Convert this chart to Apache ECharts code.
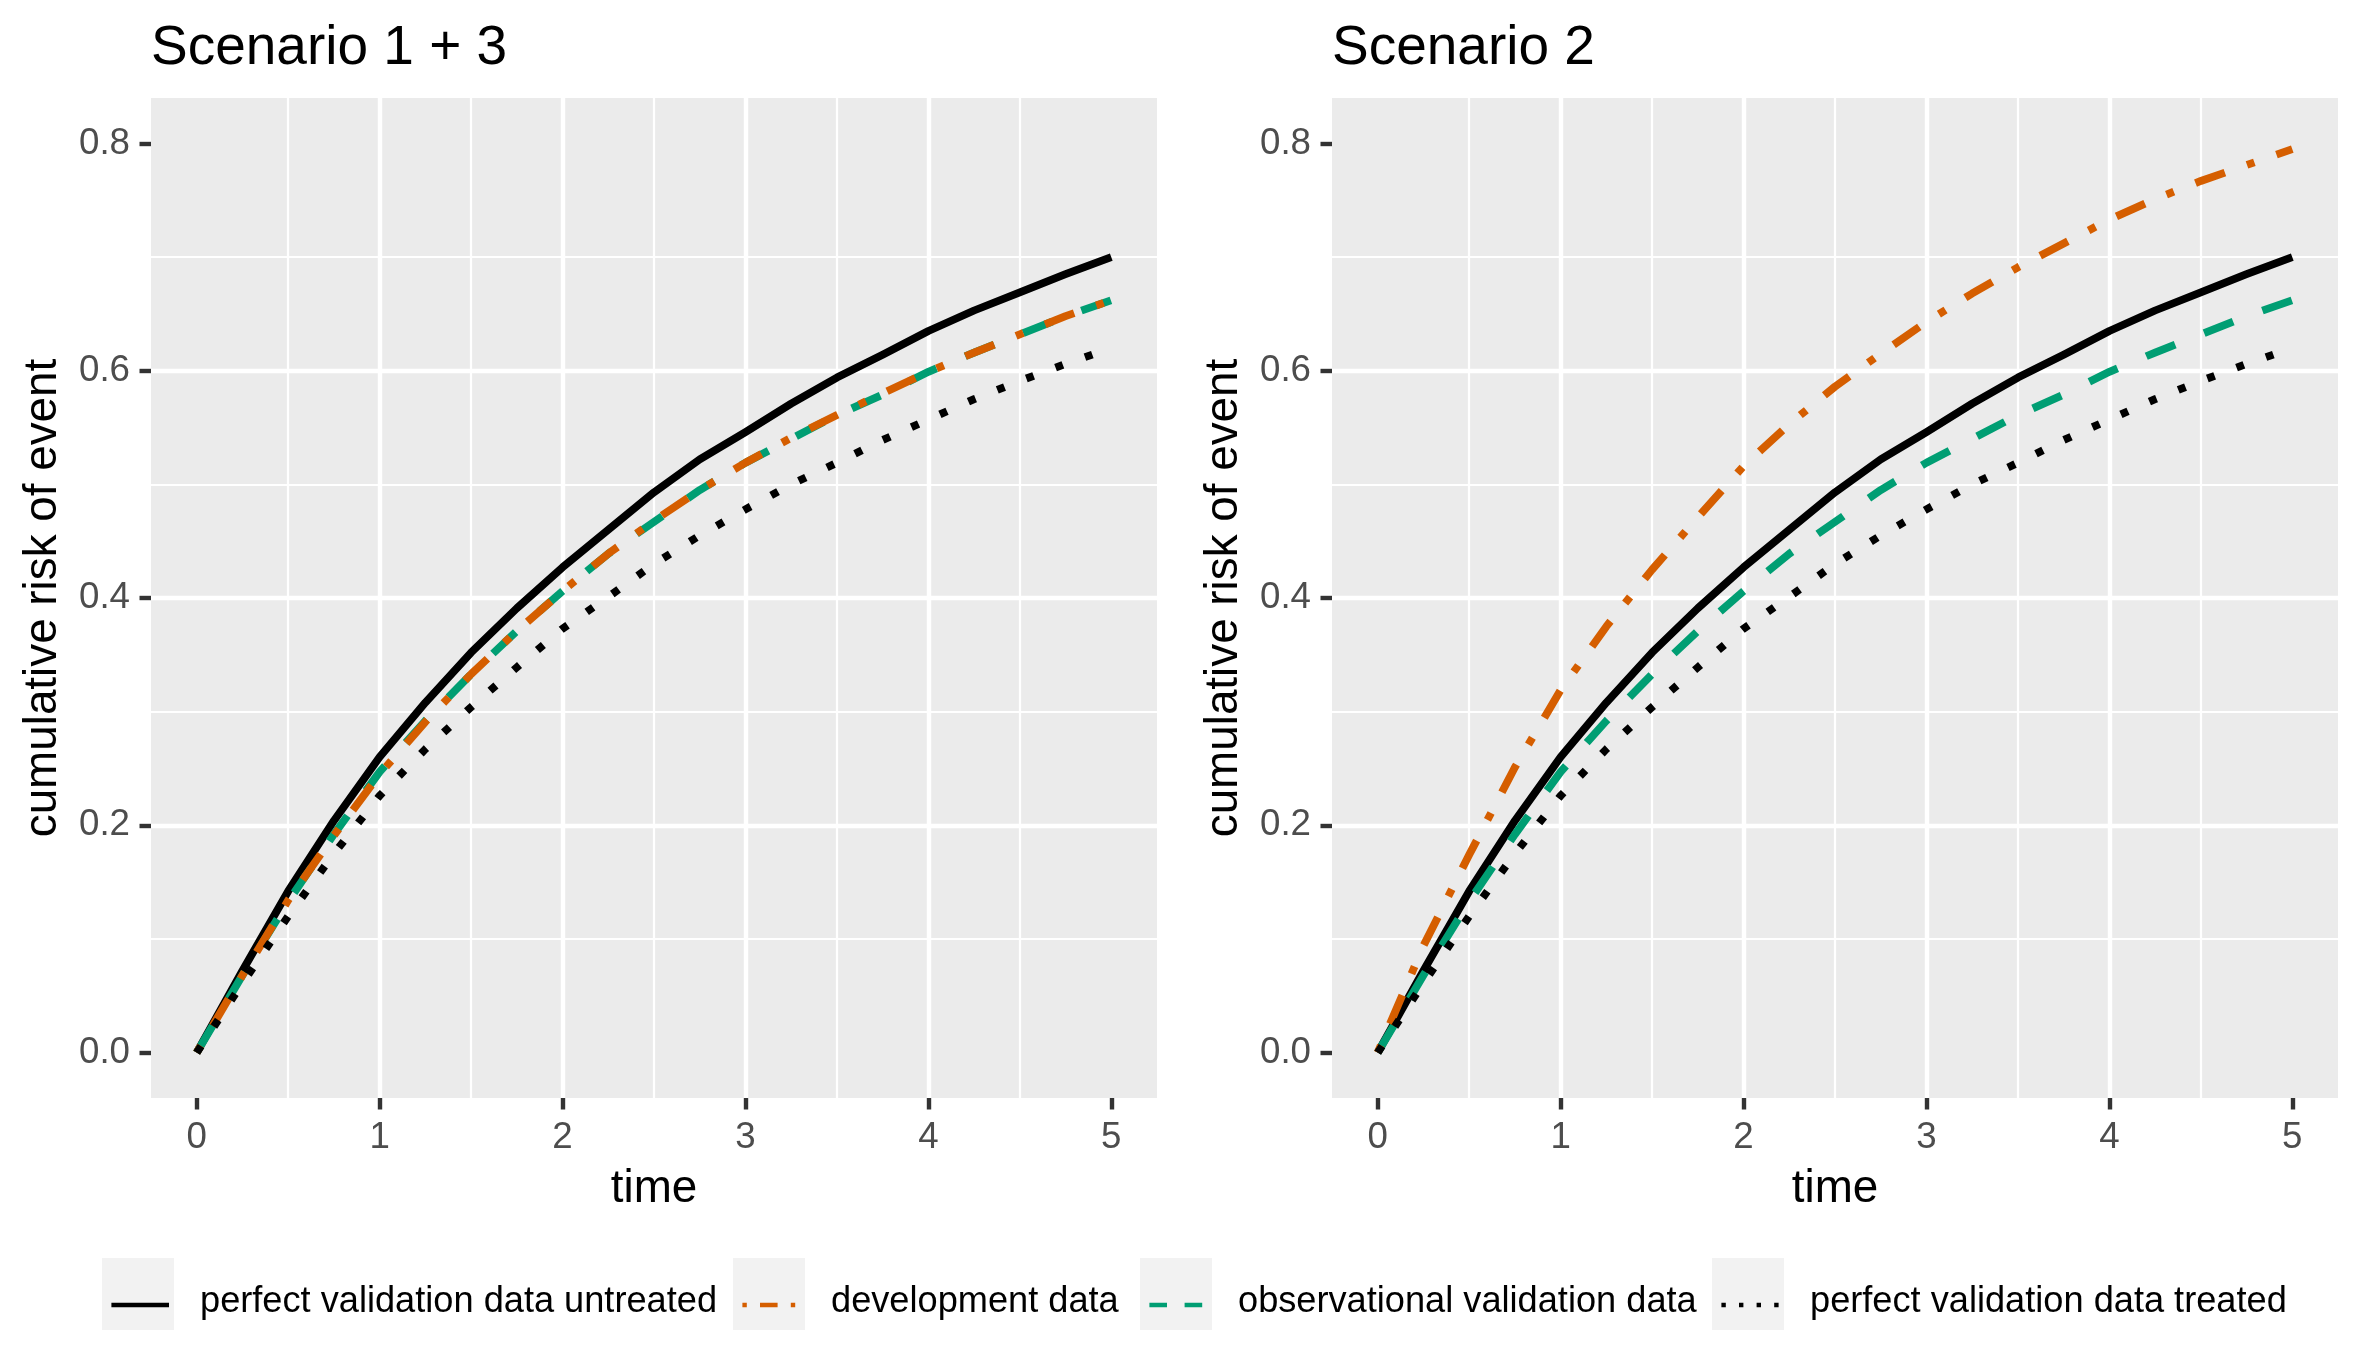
<!DOCTYPE html>
<html>
<head>
<meta charset="utf-8">
<script src="https://cdn.jsdelivr.net/npm/echarts@6/dist/echarts.min.js"></script>
<style>
  html, body { margin: 0; padding: 0; background: #fff; }
  #chart { width: 2362px; height: 1352px; }
</style>
</head>
<body>
<div id="chart"></div>
<script>
// data
var timePoints = [0, 0.25, 0.5, 0.75, 1, 1.25, 1.5, 1.75, 2, 2.25, 2.5, 2.75, 3, 3.25, 3.5, 3.75, 4, 4.25, 4.5, 4.75, 5];
var untreated = [0, 0.072, 0.142, 0.204, 0.260, 0.308, 0.352, 0.391, 0.427, 0.460, 0.493, 0.522, 0.546, 0.571, 0.594, 0.614, 0.635, 0.653, 0.669, 0.685, 0.700];
var observational = [0, 0.068, 0.133, 0.192, 0.247, 0.292, 0.333, 0.371, 0.406, 0.439, 0.467, 0.495, 0.519, 0.540, 0.561, 0.579, 0.599, 0.616, 0.632, 0.648, 0.662];
var developmentS13 = [0, 0.068, 0.134, 0.191, 0.245, 0.291, 0.333, 0.371, 0.406, 0.439, 0.468, 0.495, 0.519, 0.541, 0.561, 0.580, 0.599, 0.616, 0.632, 0.648, 0.662];
var developmentS2 = [0, 0.094, 0.174, 0.251, 0.319, 0.375, 0.425, 0.471, 0.516, 0.553, 0.586, 0.615, 0.643, 0.668, 0.691, 0.712, 0.733, 0.751, 0.767, 0.781, 0.795];
var treated = [0, 0.061, 0.120, 0.175, 0.226, 0.267, 0.304, 0.339, 0.373, 0.401, 0.430, 0.455, 0.478, 0.500, 0.519, 0.539, 0.557, 0.575, 0.591, 0.606, 0.620];

var panelTitles = ['Scenario 1 + 3', 'Scenario 2'];
var seriesNames = ['perfect validation data untreated', 'development data', 'observational validation data', 'perfect validation data treated'];
var xTicks = [0, 1, 2, 3, 4, 5];
var yTicks = [0, 0.2, 0.4, 0.6, 0.8];

// styles
var FONT = '"Liberation Sans", Arial, sans-serif';
var colors = ['#000000', '#D55E00', '#009E73', '#000000'];
var LW = 7.8;
var plotDash = ['solid', [LW, 3 * LW, 4 * LW, 3 * LW], [4 * LW, 4 * LW], [LW, 3 * LW]];
var KW = 4.4;
var keyDash = ['solid', [KW, 3 * KW, 4 * KW, 3 * KW], [4 * KW, 4 * KW], [KW, 3 * KW]];
var legendLeft = [102, 733, 1140, 1712];
var panelLeft = [151, 1332];

function pairs(ys) {
	var out = [];
	for (var i = 0; i < timePoints.length; i++) {
		out.push([timePoints[i], ys[i]]);
	}
	return out;
}

var panelData = [
	[untreated, developmentS13, observational, treated],
	[untreated, developmentS2, observational, treated]
];

var grids = [], xAxes = [], yAxes = [], titles = [], series = [];
for (var p = 0; p < 2; p++) {
	grids.push({
		left: panelLeft[p], top: 98, width: 1006, height: 1000,
		show: true, backgroundColor: '#EBEBEB', borderWidth: 0
	});
	titles.push({
		text: panelTitles[p], left: panelLeft[p], top: 21, padding: 0,
		textStyle: { fontSize: 55, fontWeight: 'normal', color: '#000', fontFamily: FONT }
	});
	xAxes.push({
		type: 'value', gridIndex: p, min: -0.25, max: 5.25,
		splitNumber: 5, minInterval: 1, maxInterval: 1,
		name: 'time', nameLocation: 'middle', nameGap: 68,
		nameTextStyle: { fontSize: 45.8, color: '#000', fontFamily: FONT },
		axisLine: { show: false, onZero: false },
		axisTick: { show: true, length: 11.5, customValues: xTicks, lineStyle: { color: '#333333', width: 4.4 } },
		axisLabel: { margin: 21, fontSize: 36.7, color: '#4D4D4D', fontFamily: FONT, customValues: xTicks },
		splitLine: { show: true, showMinLine: false, showMaxLine: false, lineStyle: { color: '#FFFFFF', width: 4.4 } },
		minorTick: { show: false, splitNumber: 2 },
		minorSplitLine: { show: true, lineStyle: { color: '#FFFFFF', width: 2.2 } }
	});
	yAxes.push({
		type: 'value', gridIndex: p, min: -0.04, max: 0.84,
		splitNumber: 4, minInterval: 0.2, maxInterval: 0.2,
		name: 'cumulative risk of event', nameLocation: 'middle', nameGap: 85,
		nameTextStyle: { fontSize: 45.8, color: '#000', fontFamily: FONT },
		axisLine: { show: false, onZero: false },
		axisTick: { show: true, length: 11.5, customValues: yTicks, lineStyle: { color: '#333333', width: 4.4 } },
		axisLabel: {
			margin: 21, fontSize: 36.7, color: '#4D4D4D', fontFamily: FONT, customValues: yTicks,
			formatter: function (v) { return v.toFixed(1); }
		},
		splitLine: { show: true, showMinLine: false, showMaxLine: false, lineStyle: { color: '#FFFFFF', width: 4.4 } },
		minorTick: { show: false, splitNumber: 2 },
		minorSplitLine: { show: true, lineStyle: { color: '#FFFFFF', width: 2.2 } }
	});
	// drawing order: black solid, green, orange on top, dotted
	var order = [0, 2, 1, 3];
	for (var k = 0; k < order.length; k++) {
		var s = order[k];
		series.push({
			name: seriesNames[s], type: 'line', xAxisIndex: p, yAxisIndex: p,
			data: pairs(panelData[p][s]),
			symbol: 'none', smooth: false,
			lineStyle: { color: colors[s], width: LW, type: plotDash[s], cap: 'butt', join: 'round' },
			itemStyle: { color: colors[s] },
			emphasis: { disabled: true },
			silent: true, z: 3
		});
	}
}

var legends = seriesNames.map(function (name, k) {
	return {
		left: legendLeft[k] + 7.2, top: 1284, padding: 0,
		itemWidth: 57.6, itemHeight: 20, selectedMode: false, z: 5,
		data: [{
			name: name,
			itemStyle: { opacity: 0 },
			lineStyle: { color: colors[k], width: KW, type: keyDash[k], cap: 'butt', opacity: 1 }
		}],
		formatter: '{t|{name}}',
		textStyle: {
			fontSize: 36.2, color: '#000', fontFamily: FONT,
			rich: { t: { fontSize: 36.2, color: '#000', fontFamily: FONT, padding: [0, 0, 6, 26] } }
		}
	};
});

var keyBoxes = legendLeft.map(function (x) {
	return { type: 'rect', z: 1, shape: { x: x, y: 1258, width: 72, height: 72 }, style: { fill: '#F2F2F2' } };
});

var myChart = echarts.init(document.getElementById('chart'), null, { renderer: 'canvas' });
myChart.setOption({
	animation: false,
	backgroundColor: '#FFFFFF',
	title: titles,
	grid: grids,
	xAxis: xAxes,
	yAxis: yAxes,
	legend: legends,
	graphic: keyBoxes,
	series: series
});
</script>
</body>
</html>
